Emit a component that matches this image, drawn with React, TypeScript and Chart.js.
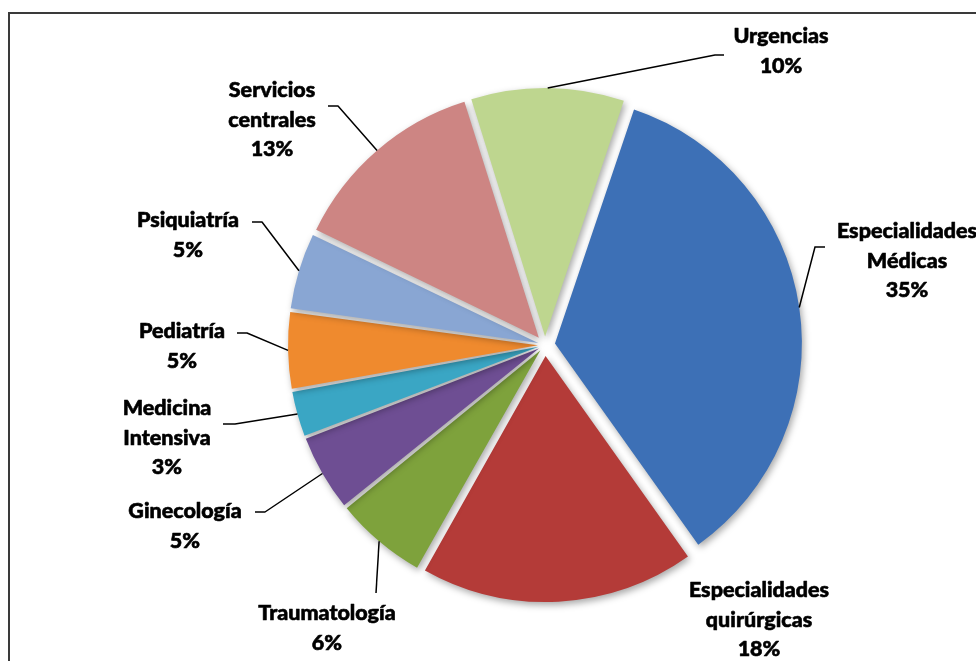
import React, { useEffect, useRef } from "react";
import { Chart, registerables } from "chart.js";

Chart.register(...registerables);

const categories = [
  "Especialidades\nMédicas",
  "Especialidades\nquirúrgicas",
  "Traumatología",
  "Ginecología",
  "Medicina\nIntensiva",
  "Pediatría",
  "Psiquiatría",
  "Servicios\ncentrales",
  "Urgencias",
];
const shares = [35, 18, 6, 5, 3, 5, 5, 13, 10];
const colors = [
  "#3D70B6",
  "#B43B38",
  "#7EA23C",
  "#6E4E93",
  "#3AA6C4",
  "#EF8A2E",
  "#89A6D3",
  "#CD8583",
  "#BED68F",
];

// label layout relative to pie centre: text centre x, first baseline y
const labelText: [number, number][] = [
  [362, -107],
  [214, 252],
  [-218, 275],
  [-360, 173],
  [-378, 70],
  [-363, -7],
  [-357, -118],
  [-273, -248],
  [236, -302],
];
// leader tail end relative to pie centre, and horizontal tail length (signed); null = no leader
const leaderEnd: ([number, number, number] | null)[] = [
  [280, -98, -10],
  null,
  [-169, 248, 0],
  [-290, 167, 10],
  [-322, 79, 12],
  [-308, -12, 10],
  [-293, -123, 10],
  [-217, -239, 10],
  [179, -290, -9],
];

const SHIFT = 12;
const FONT = "900 21.5px Lato, 'Open Sans', sans-serif";

export default function App() {
  const ref = useRef<HTMLCanvasElement>(null);
  useEffect(() => {
    const canvas = ref.current!;
    const total = shares.reduce((a, b) => a + b, 0);
    const offsetFor = (v: number) => {
      const circ = (v / total) * Math.PI * 2;
      const fix = 1 - Math.sin(Math.min(Math.PI, circ));
      return (SHIFT * 4) / (1 + fix);
    };
    const decor = {
      id: "decor",
      beforeDatasetsDraw(chart: any) {
        const ctx = chart.ctx;
        ctx.save();
        ctx.shadowColor = "rgba(0,0,0,0.35)";
        ctx.shadowBlur = 7;
        ctx.shadowOffsetX = 2;
        ctx.shadowOffsetY = 3;
      },
      afterDatasetsDraw(chart: any) {
        const ctx = chart.ctx;
        ctx.restore();
        const meta = chart.getDatasetMeta(0);
        ctx.save();
        // border
        ctx.strokeStyle = "#3a3a3a";
        ctx.lineWidth = 2;
        ctx.beginPath();
        ctx.moveTo(9, 661);
        ctx.lineTo(9, 13);
        ctx.lineTo(976, 13);
        ctx.stroke();
        meta.data.forEach((arc: any, i: number) => {
          const p = arc.getProps(["x", "y", "startAngle", "endAngle", "outerRadius"], true);
          const cx = p.x;
          const cy = p.y;
          const mid = (p.startAngle + p.endAngle) / 2;
          const r = p.outerRadius + SHIFT;
          const sx = cx + Math.cos(mid) * r;
          const sy = cy + Math.sin(mid) * r;
          const le = leaderEnd[i];
          if (le) {
            ctx.strokeStyle = "#000";
            ctx.lineWidth = 1.5;
            ctx.beginPath();
            ctx.moveTo(sx, sy);
            const ex = cx + le[0];
            const ey = cy + le[1];
            ctx.lineTo(ex + le[2], ey);
            ctx.lineTo(ex, ey);
            ctx.stroke();
          }
          const lines = categories[i].split("\n").concat([
            Math.round((shares[i] / total) * 100) + "%",
          ]);
          ctx.fillStyle = "#000";
          ctx.strokeStyle = "#000";
          ctx.lineWidth = 0.6;
          ctx.lineJoin = "round";
          ctx.font = FONT;
          ctx.textAlign = "center";
          ctx.textBaseline = "alphabetic";
          lines.forEach((t, k) => {
            const tx = cx + labelText[i][0];
            const ty = cy + labelText[i][1] + k * 29.5;
            ctx.fillText(t, tx, ty);
            ctx.strokeText(t, tx, ty);
          });
        });
        ctx.restore();
      },
    };
    const chart = new Chart(canvas, {
      type: "pie",
      data: {
        labels: categories.map((c) => c.replace("\n", " ")),
        datasets: [
          {
            data: shares,
            backgroundColor: colors,
            borderWidth: 0,
            offset: shares.map((v) => offsetFor(v)),
          },
        ],
      },
      options: {
        animation: false,
        responsive: false,
        rotation: 18.6,
        radius: 245,
        layout: { padding: { left: 114, right: 0, top: 29, bottom: 0 } },
        plugins: {
          legend: { display: false },
          tooltip: { enabled: false },
        },
        events: [],
      },
      plugins: [decor],
    });
    return () => chart.destroy();
  }, []);
  return (
    <div style={{ position: "absolute", left: 0, top: 0, width: 976, height: 661, overflow: "hidden", background: "#fff" }}>
      <canvas ref={ref} width={976} height={661} style={{ display: "block", width: 976, height: 661 }} />
    </div>
  );
}
